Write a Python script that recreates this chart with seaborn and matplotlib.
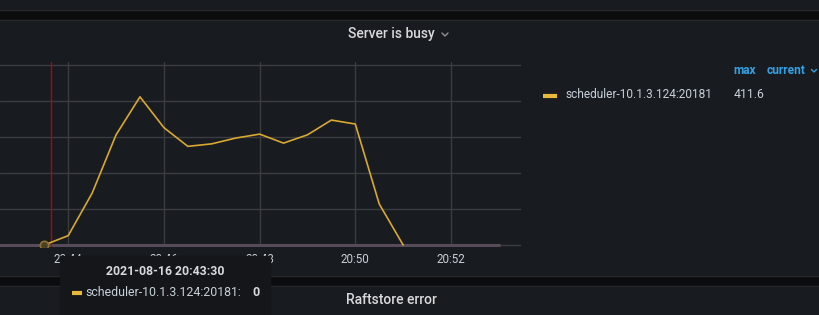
import matplotlib
matplotlib.use("Agg")
import matplotlib.pyplot as plt
import seaborn as sns
import pandas as pd
from matplotlib.patches import Rectangle

# ---- data ----
series_name = "scheduler-10.1.3.124:20181"
times = ["20:43:30", "20:44:00", "20:44:30", "20:45:00", "20:45:30", "20:46:00",
         "20:46:30", "20:47:00", "20:47:30", "20:48:00", "20:48:30", "20:49:00",
         "20:49:30", "20:50:00", "20:50:30", "20:51:00"]
values = [0, 26, 144, 306, 411.6, 326, 274, 281, 297, 308, 283, 306, 347, 336, 114, 0]
tick_labels = ["20:44", "20:46", "20:48", "20:50", "20:52"]
legend_max = "411.6"
tooltip_time = "2021-08-16 20:43:30"
tooltip_value = "0"
annotation_time = "20:43:38"

day = "2021-08-16 "
df = pd.DataFrame({"time": pd.to_datetime([day + t for t in times]), "value": values})

W, H = 819, 315
PANEL = "#181b1f"
DARK = "#0b0c0e"
BORDER = "#26282c"
GRID = "#3a3c40"
TEXT = "#c7d0d9"
YELLOW = "#d9a830"
BLUE = "#33a2e5"

sns.set_theme(style="dark")
plt.rcParams["font.family"] = ["Roboto", "DejaVu Sans"]

fig = plt.figure(figsize=(W / 100, H / 100), dpi=100)
fig.patch.set_facecolor(PANEL)

# background (pixel coords)
bg = fig.add_axes([0, 0, 1, 1], zorder=0)
bg.set_xlim(0, W); bg.set_ylim(H, 0); bg.axis("off")
bg.add_patch(Rectangle((0, 0), W, H, color=PANEL))
for y0, y1 in [(10, 19.5), (276, 285.5)]:
    bg.add_patch(Rectangle((0, y0), W, y1 - y0, color=DARK))
    bg.plot([0, W], [y0, y0], color=BORDER, lw=1)
    bg.plot([0, W], [y1, y1], color=BORDER, lw=1)

# main plot axes: pixel mapping
px_per_min = 47.85
x44 = 68.2
x_left_px, x_right_px = 0, 520.7
y0_px = 245.0
px_per_unit = 0.36
ylo, yhi = -5, 508
t44 = pd.Timestamp(day + "20:44:00")
tmin = t44 + pd.Timedelta(minutes=(x_left_px - x44) / px_per_min)
tmax = t44 + pd.Timedelta(minutes=(x_right_px - x44) / px_per_min)
bot_px = y0_px - ylo * px_per_unit
top_px = y0_px - yhi * px_per_unit
ax = fig.add_axes([x_left_px / W, 1 - bot_px / H, (x_right_px - x_left_px) / W,
                   (bot_px - top_px) / H], zorder=1)
ax.set_facecolor("none")
ax.set_xlim(tmin, tmax)
ax.set_ylim(ylo, yhi)
for s in ax.spines.values():
    s.set_visible(False)

ax.set_yticks([0, 100, 200, 300, 400, 500])
ax.set_yticklabels([])
ticks = [pd.Timestamp(day + t) for t in tick_labels]
ax.set_xticks(ticks)
ax.set_xticklabels(tick_labels)
ax.tick_params(axis="x", length=0, pad=4.5, colors=TEXT, labelsize=8.4)
ax.tick_params(axis="y", length=0)
ax.grid(True, color=GRID, lw=1)
ax.set_axisbelow(True)

# zero baseline
ax.axhline(0, xmin=0, xmax=499.3 / 520.7, color="#574b5a", lw=2.2, zorder=2)
# annotation line
ax.axvline(pd.Timestamp(day + annotation_time), color="#b00808", lw=1, zorder=3)

sns.lineplot(data=df, x="time", y="value", ax=ax, color=YELLOW, lw=1.2, zorder=4)
ax.plot(df["time"].iloc[0], df["value"].iloc[0], "o", ms=6, mfc="#4a4222",
        mec="#8a7633", mew=1.2, zorder=5)
ax.set_xlabel(""); ax.set_ylabel("")

# overlay (pixel coords)
ov = fig.add_axes([0, 0, 1, 1], zorder=3)
ov.set_facecolor("none")
ov.set_xlim(0, W); ov.set_ylim(H, 0); ov.axis("off")

# panel titles
ov.text(391, 34, "Server is busy", color="#d8d9da", fontsize=10, weight="medium",
        ha="center", va="center")
ov.plot([442, 445, 448], [33, 36, 33], color="#8e9094", lw=1)
ov.text(391, 300, "Raftstore error", color="#d8d9da", fontsize=10, weight="medium",
        ha="center", va="center")

# legend
ov.text(756, 71, "max", color=BLUE, fontsize=8.6, weight="bold", ha="right", va="center")
ov.text(767, 71, "current", color=BLUE, fontsize=8.6, weight="bold", ha="left", va="center")
ov.plot([811.5, 814, 816.5], [69.5, 72, 69.5], color=BLUE, lw=1)
ov.plot([543, 556.5], [95.5, 95.5], color="#eab839", lw=3, solid_capstyle="butt")
ov.text(566, 94.5, series_name, color=TEXT, fontsize=8.6, ha="left", va="center")
ov.text(734, 94.5, legend_max, color=TEXT, fontsize=8.8, ha="left", va="center")

# tooltip
ov.add_patch(Rectangle((60, 256), 209.5, 60, color="#141619", zorder=5))
ov.text(165, 271.5, tooltip_time, color="#d8d9da", fontsize=8.8, weight="bold",
        ha="center", va="center", zorder=6)
ov.plot([72, 81.5], [292.5, 292.5], color="#eab839", lw=3, solid_capstyle="butt", zorder=6)
ov.text(85, 292, series_name + ":", color=TEXT, fontsize=8.9, ha="left", va="center", zorder=6)
ov.text(260, 292, tooltip_value, color="#d8d9da", fontsize=9, weight="bold",
        ha="right", va="center", zorder=6)

fig.savefig("out.png", dpi=100, facecolor=PANEL)
